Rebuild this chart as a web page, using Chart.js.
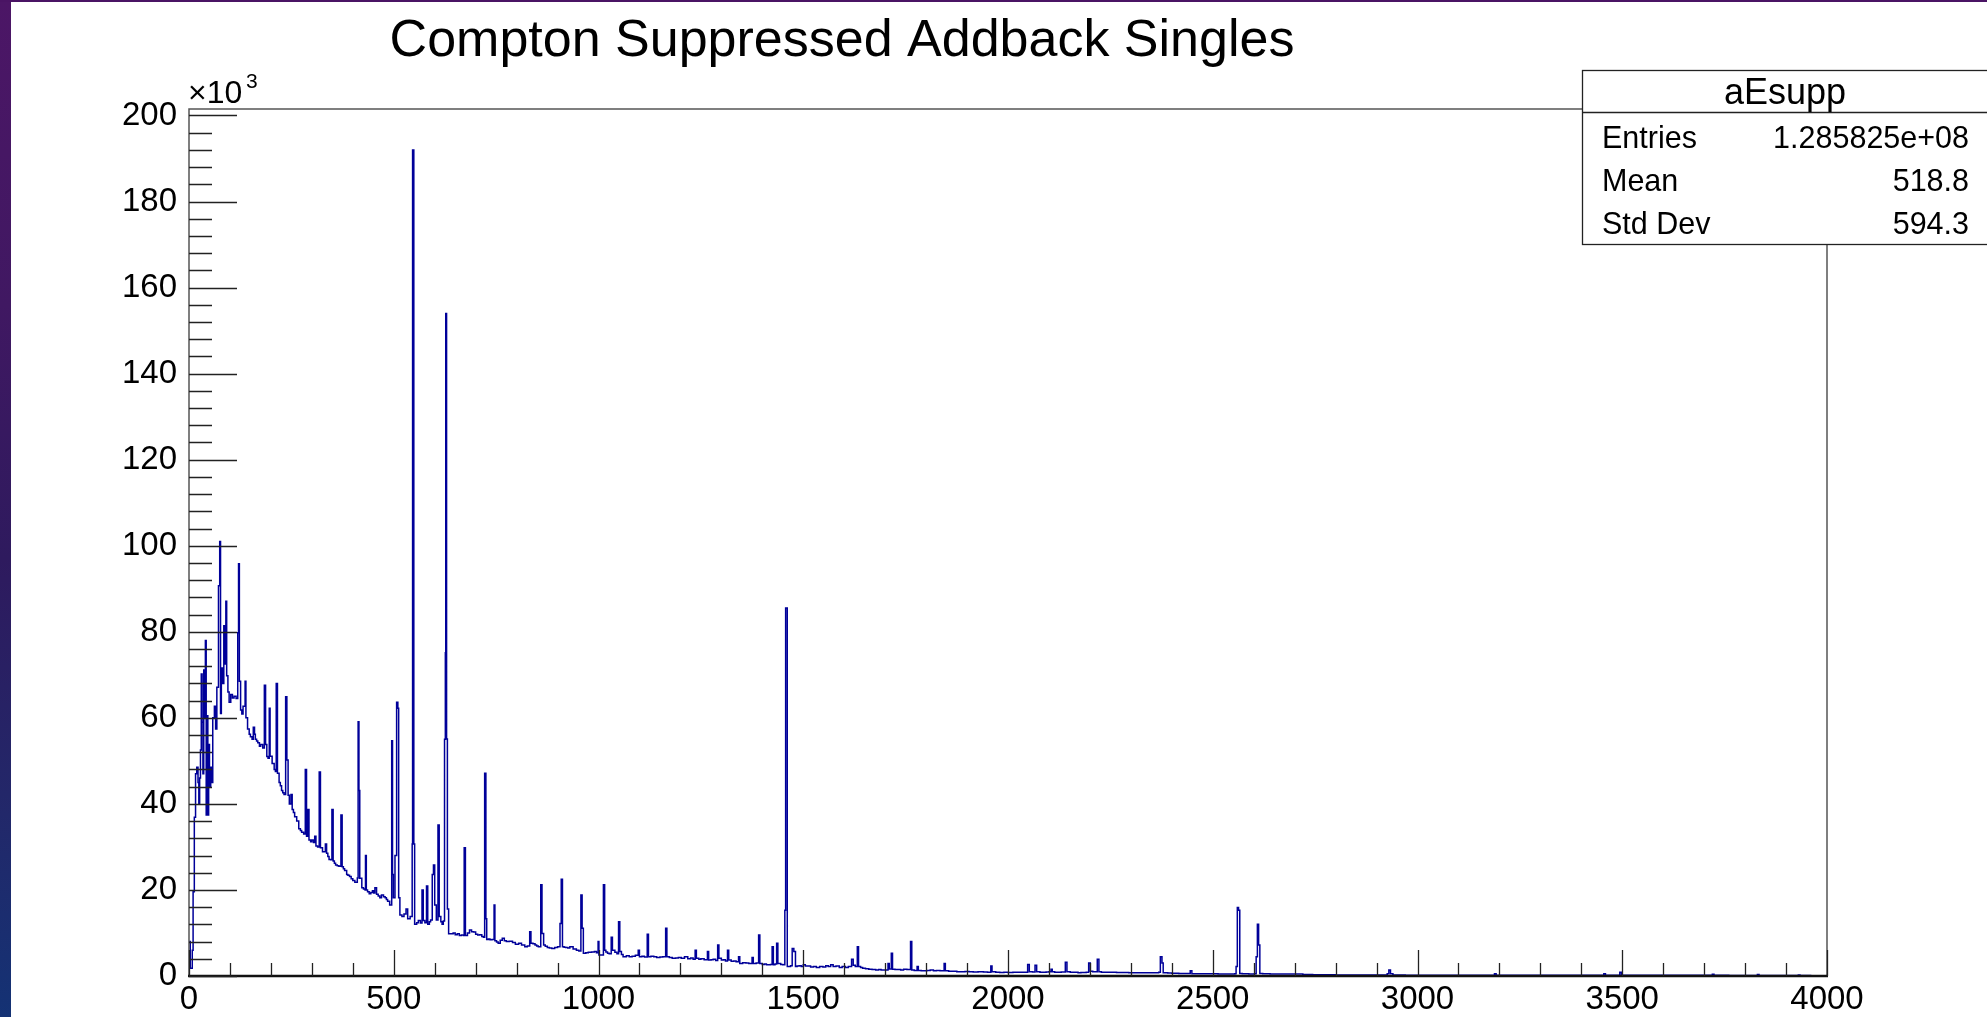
<!DOCTYPE html>
<html>
<head>
<meta charset="utf-8">
<title>Compton Suppressed Addback Singles</title>
<script src="https://cdn.jsdelivr.net/npm/chart.js@4.4.1/dist/chart.umd.min.js"></script>
<style>
  html, body { margin: 0; padding: 0; background: #ffffff; overflow: hidden; }
  #wrap { position: relative; width: 1987px; height: 1017px; }
  canvas { display: block; }
</style>
</head>
<body>
<div id="wrap"><canvas id="spec" width="1987" height="1017"></canvas></div>
<script>
// Gamma-ray energy spectrum, histogram "aEsupp".
// Each pair: [lower edge of a step in keV, counts from there to the next edge, in units of 10^3]
const lowEnergy = [
  [0,8.0],[3,1.8],[8,6.0],[10,19.6],[13,36.9],[16,47.0],[19,48.5],[22,45.0],[24,40.0],[26,46.0],
  [28,52.5],[30,70.2],[32,59.0],[34,47.0],[36,71.1],[39,60.0],[40,78.0],[42,37.4],[44,60.5],[46,37.4],
  [48,53.8],[50,44.0],[53,48.5],[56,45.0],[58,60.0],[62,62.7],[65,57.4],[68,67.1],[72,90.7],[75,101.0],
  [77,61.0],[79,71.6],[82,68.0],[85,81.4],[87,72.5],[90,87.1],[92,69.8],[95,66.0],[98,63.6],[102,65.4],
  [106,64.6],[110,65.0],[115,64.5],[119,79.8],[121,95.8],[123,68.5],[126,61.8],[129,60.9],[132,62.7],[137,68.5],
  [139,60.0],[143,57.4],[147,56.2],[150,55.6],[154,55.0],[157,57.8],[160,56.2],[162,55.0],[165,54.6],[168,54.2],
  [172,53.4],[175,53.8],[180,53.0],[184,67.6],[187,53.8],[190,51.0],[193,50.6],[196,62.2],[198,51.1],[203,49.4],
  [208,48.0],[211,47.5],[213,68.0],[216,47.1],[220,45.0],[223,44.2],[226,43.1],[229,42.6],[232,42.2],[236,64.9],
  [239,50.2],[242,42.0],[245,40.0],[249,42.2],[252,38.7],[255,38.0],[258,37.0],[263,36.0],[268,34.2],[272,33.8],
  [275,33.4],[280,33.0],[284,48.0],[287,32.5],[290,38.7],[293,31.6],[297,31.2],[300,31.6]
];
const midEnergy = [
  [304,31.0],[307,32.5],[310,30.2],[314,30.0],[318,47.4],[321,29.8],[326,28.9],[333,30.7],[336,28.5],[339,27.8],
  [342,27.1],[346,27.0],[349,38.7],[352,26.7],[355,26.2],[358,25.8],[362,25.6],[366,25.5],[371,37.4],[374,25.4],
  [377,24.9],[380,24.5],[385,23.6],[388,23.4],[392,23.1],[396,22.6],[400,22.2],[405,21.8],[411,22.8],[413,59.1],
  [415,43.1],[417,22.7],[422,20.5],[426,20.2],[430,20.0],[431,28.0],[433,20.0],[436,19.6],[440,19.1],[444,19.4],
  [448,19.8],[451,19.3],[454,20.5],[458,19.0],[462,18.6],[466,18.2],[470,18.8],[475,18.4],[479,18.2],[482,17.8],
  [485,17.4],[490,16.5],[495,54.7],[497,23.6],[499,18.2],[503,28.0],[507,63.6],[510,62.2],[512,18.2],[515,14.2],
  [520,13.8],[525,14.4],[530,15.6],[534,13.3],[540,13.8],[545,30.7],[546,192.0],[549,30.7],[551,12.0],[556,12.4],
  [560,12.9],[565,12.3],[569,20.0],[572,12.9],[576,12.4],[580,20.9],[583,12.0],[587,12.6],[590,13.0],[594,23.6],
  [597,25.8],[600,16.5],[604,13.0],[608,35.1],[611,13.8],[615,12.6],[618,12.0],[621,12.8],[624,55.0],[626,75.1],
  [627,154.0],[629,55.1],[631,15.6],[634,9.8],[640,9.8],[645,10.0],[650,9.6],[655,9.8],[660,9.4],[665,9.5],
  [670,9.4],[672,29.8],[675,9.4],[680,10.0],[685,10.7],[690,10.3],[695,10.2],[700,9.7],[705,9.5],[710,9.6],
  [715,9.2],[719,9.0],[722,47.1],[725,13.3],[727,8.5],[731,8.6],[735,8.4],[740,8.5],[745,16.5],[747,8.2],
  [751,7.9],[755,7.6],[760,8.3],[765,8.8],[770,8.2],[775,8.0],[782,8.1],[790,7.8],[797,7.4],[805,7.6],
  [812,7.2],[820,6.8],[826,7.0],[832,10.3],[835,7.6],[840,7.5],[845,7.2],[849,7.0],[853,6.8],[859,21.2],
  [862,9.9],[866,7.2],[870,6.9],[875,6.6],[880,6.5],[886,6.4],[893,6.6],[900,6.8],[906,12.2],[909,22.5],
  [912,6.8],[916,6.7],[920,6.6],[925,6.5],[930,6.8],[938,6.3],[946,6.0],[952,5.8],[957,18.8],[960,11.1],
  [963,5.3],[969,5.4],[975,5.5],[983,5.6],[990,5.7],[995,5.4],[999,8.0],[1001,4.9]
];
const highEnergy = [
  [1012,21.2],[1015,6.0],[1018,5.6],[1022,5.3],[1026,5.2],[1031,9.0],[1034,6.0],[1040,5.5],[1045,5.2],[1049,12.6],
  [1052,5.7],[1056,5.0],[1060,4.5],[1068,4.7],[1075,4.5],[1082,4.6],[1090,4.8],[1097,6.0],[1100,4.5],[1106,4.6],
  [1112,4.4],[1119,9.7],[1122,4.5],[1128,4.6],[1135,4.5],[1142,4.3],[1150,4.4],[1157,4.5],[1164,11.1],[1167,4.5],
  [1173,4.3],[1180,4.1],[1188,4.2],[1195,4.3],[1202,4.1],[1210,4.5],[1218,4.0],[1225,4.2],[1231,3.9],[1236,6.0],
  [1239,4.1],[1245,3.9],[1250,4.0],[1258,3.8],[1266,5.7],[1269,3.7],[1275,3.8],[1280,3.9],[1286,3.6],[1291,7.2],
  [1294,4.1],[1300,3.7],[1305,3.8],[1310,3.5],[1315,6.0],[1318,3.7],[1324,3.4],[1330,3.5],[1336,3.3],[1342,4.5],
  [1345,2.9],[1352,3.1],[1360,3.0],[1367,2.9],[1375,4.3],[1378,2.9],[1385,3.0],[1391,9.5],[1394,2.9],[1400,2.7],
  [1405,2.8],[1410,2.6],[1415,2.6],[1420,2.7],[1424,6.8],[1427,2.6],[1431,2.8],[1435,7.6],[1438,2.9],[1445,2.7],
  [1450,2.6],[1455,15.3],[1457,85.5],[1461,2.2],[1465,2.2],[1469,2.4],[1473,6.4],[1477,5.7],[1481,2.2],[1485,2.3],
  [1490,2.4],[1495,2.2],[1500,2.6],[1505,2.3],[1510,2.3],[1518,2.1],[1525,2.2],[1532,2.0],[1540,2.2],[1548,2.1],
  [1555,2.4],[1561,2.2],[1567,2.6],[1573,2.2],[1580,2.3],[1588,2.0],[1595,2.2],[1603,2.0],[1610,2.2],[1618,3.9],
  [1622,2.5],[1627,2.2],[1632,6.8],[1635,2.2],[1640,2.0],[1645,1.8],[1652,1.7],[1660,1.55],[1668,1.5],[1677,1.4],
  [1684,1.5],[1690,1.4],[1698,1.4],[1707,2.9],[1710,1.6],[1715,5.3],[1718,1.55],[1724,1.5],[1730,1.5],[1738,1.4],
  [1745,1.55],[1753,1.5],[1762,8.0],[1765,1.4],[1771,1.3],[1778,2.2],[1781,1.3],[1788,1.2],[1795,1.2],[1802,1.3],
  [1810,1.4],[1818,1.2],[1825,1.3],[1834,1.2],[1844,2.9],[1847,1.2],[1855,1.1],[1865,1.1],[1875,1.0],[1884,1.0],
  [1895,1.05],[1905,1.0],[1915,0.95],[1927,1.0],[1940,0.95],[1950,0.9],[1958,2.3],[1961,1.0],[1970,0.85],[1980,0.8],
  [1990,0.85],[2000,0.8],[2012,0.85],[2025,0.9],[2037,0.85],[2048,2.7],[2052,1.0],[2060,0.95],[2066,2.5],[2070,1.0],
  [2078,0.9],[2085,0.9],[2093,0.95],[2100,1.0],[2105,1.55],[2108,1.0],[2114,0.9],[2120,0.9],[2130,0.95],[2140,3.2],
  [2144,1.0],[2152,0.9],[2160,0.9],[2171,0.77],[2178,0.8],[2185,0.8],[2191,0.85],[2197,3.0],[2201,1.1],[2207,1.0],
  [2212,1.0],[2218,3.9],[2222,1.0],[2228,0.9],[2235,0.9],[2245,0.85],[2253,0.85],[2265,0.8],[2280,0.8],[2295,0.78],
  [2308,0.77],[2320,0.76],[2335,0.75],[2348,0.76],[2362,0.77],[2368,0.9],[2372,4.5],[2376,3.0],[2379,0.77],[2390,0.7],
  [2400,0.65],[2408,0.62],[2417,0.6],[2430,0.58],[2445,1.2],[2449,0.55],[2460,0.54],[2471,0.54],[2485,0.52],[2500,0.5],
  [2513,0.48],[2526,0.46],[2540,0.48],[2554,0.5],[2557,2.2],[2560,15.9],[2563,15.3],[2566,0.6],[2572,0.5],[2580,0.5],
  [2588,0.48],[2595,0.46],[2602,0.5],[2606,4.5],[2609,12.0],[2612,7.2],[2615,0.6],[2622,0.5],[2630,0.5],[2640,0.48],
  [2650,0.48],[2670,0.46],[2689,0.46],[2700,0.45],[2720,0.35],[2744,0.3],[2770,0.28],[2800,0.25],[2850,0.24],[2900,0.23],
  [2926,0.5],[2930,1.4],[2934,0.5],[2940,0.22],[2970,0.2],[3000,0.2],[3070,0.2],[3130,0.19],[3188,0.5],[3192,0.2],
  [3250,0.18],[3300,0.18],[3380,0.17],[3455,0.5],[3459,0.18],[3494,0.85],[3498,0.18],[3550,0.16],[3600,0.15],[3650,0.15],
  [3700,0.15],[3720,0.4],[3724,0.15],[3760,0.14],[3800,0.12],[3830,0.35],[3834,0.12],[3870,0.12],[3900,0.1],[3930,0.25],
  [3934,0.1],[3960,0.0],[4000,0.0]
];

// Axis ranges and labelled ticks
const xRange = [0, 4000];
const yRange = [0, 201.5];
const xTickLabels = [0, 500, 1000, 1500, 2000, 2500, 3000, 3500, 4000];
const yTickLabels = [0, 20, 40, 60, 80, 100, 120, 140, 160, 180, 200];
const xMinorStep = 100;
const yMinorStep = 4;

// Statistics box and title text
const statsTitle = 'aEsupp';
const statsLabels = ['Entries', 'Mean', 'Std Dev'];
const statsValues = ['1.285825e+08', '518.8', '594.3'];
const chartTitle = 'Compton Suppressed Addback Singles';

const FONT = '"Liberation Sans", Arial, Helvetica, sans-serif';

const points = lowEnergy.concat(midEnergy, highEnergy).map(p => ({ x: p[0], y: p[1] }));

const pageDecor = {
  id: 'pageDecor',
  beforeDraw(chart) {
    const ctx = chart.ctx;
    ctx.save();
    ctx.fillStyle = '#ffffff';
    ctx.fillRect(0, 0, chart.width, chart.height);
    const g = ctx.createLinearGradient(0, 0, 0, chart.height);
    g.addColorStop(0, '#4c1666');
    g.addColorStop(0.3, '#401862');
    g.addColorStop(0.55, '#2e1a5e');
    g.addColorStop(0.8, '#22286a');
    g.addColorStop(1, '#143274');
    ctx.fillStyle = g;
    ctx.fillRect(0, 0, 11, chart.height);
    ctx.fillStyle = '#4a1464';
    ctx.fillRect(0, 0, chart.width, 2);
    ctx.restore();
  }
};

const frameAndTicks = {
  id: 'frameAndTicks',
  afterDatasetsDraw(chart) {
    const ctx = chart.ctx;
    const a = chart.chartArea;
    const xs = chart.scales.x, ys = chart.scales.y;
    ctx.save();
    // frame
    ctx.strokeStyle = '#555555';
    ctx.lineWidth = 1.5;
    ctx.beginPath();
    ctx.moveTo(a.left, a.bottom);
    ctx.lineTo(a.left, a.top);
    ctx.lineTo(a.right, a.top);
    ctx.lineTo(a.right, a.bottom);
    ctx.stroke();
    ctx.strokeStyle = '#111111';
    ctx.lineWidth = 2.5;
    ctx.beginPath();
    ctx.moveTo(a.left - 1, a.bottom);
    ctx.lineTo(a.right + 1, a.bottom);
    ctx.stroke();
    // tick marks: long at labelled values, short at minor steps
    ctx.strokeStyle = '#222222';
    ctx.lineWidth = 1.3;
    ctx.beginPath();
    for (let v = yRange[0]; v <= yRange[1] + 1e-9; v += yMinorStep) {
      const py = Math.round(ys.getPixelForValue(v)) + 0.5;
      const len = yTickLabels.includes(v) ? 48 : 23;
      ctx.moveTo(a.left, py);
      ctx.lineTo(a.left + len, py);
    }
    for (let v = xRange[0]; v <= xRange[1] + 1e-9; v += xMinorStep) {
      const px = Math.round(xs.getPixelForValue(v)) + 0.5;
      const len = xTickLabels.includes(v) ? 26 : 13;
      ctx.moveTo(px, a.bottom);
      ctx.lineTo(px, a.bottom - len);
    }
    ctx.stroke();
    ctx.restore();
  },
  afterDraw(chart) {
    const ctx = chart.ctx;
    const a = chart.chartArea;
    ctx.save();
    ctx.fillStyle = '#000000';
    ctx.textBaseline = 'alphabetic';
    // title
    ctx.font = '52px ' + FONT;
    ctx.textAlign = 'center';
    ctx.fillText(chartTitle, 842, 56);
    // axis multiplier
    ctx.textAlign = 'left';
    ctx.font = '32px ' + FONT;
    ctx.fillText('\u00d710', a.left - 1, 103);
    ctx.font = '21px ' + FONT;
    ctx.fillText('3', a.left + 57, 88);
    // statistics box
    const bx = 1582, by = 70, bw = 1987 - 1582 + 2, bh = 174;
    ctx.fillStyle = '#ffffff';
    ctx.fillRect(bx, by, bw, bh);
    ctx.strokeStyle = '#222222';
    ctx.lineWidth = 1.3;
    ctx.strokeRect(bx + 0.5, by + 0.5, bw, bh);
    ctx.beginPath();
    ctx.moveTo(bx, 112.5);
    ctx.lineTo(bx + bw, 112.5);
    ctx.stroke();
    ctx.fillStyle = '#000000';
    ctx.font = '36px ' + FONT;
    ctx.textAlign = 'center';
    ctx.fillText(statsTitle, 1785, 104);
    const rowBase = [148, 191, 234];
    ctx.font = '30.5px ' + FONT;
    for (let i = 0; i < statsLabels.length; i++) {
      ctx.textAlign = 'left';
      ctx.fillText(statsLabels[i], 1602, rowBase[i]);
      ctx.textAlign = 'right';
      ctx.fillText(statsValues[i], 1969, rowBase[i]);
    }
    ctx.restore();
  }
};

new Chart(document.getElementById('spec'), {
  type: 'line',
  data: {
    datasets: [{
      data: points,
      stepped: 'before',
      borderColor: '#000099',
      borderWidth: 1.5,
      pointRadius: 0,
      fill: false,
      tension: 0
    }]
  },
  options: {
    responsive: false,
    animation: false,
    devicePixelRatio: 1,
    events: [],
    layout: { padding: { left: 0, right: 160, top: 109, bottom: 0 } },
    plugins: { legend: { display: false }, tooltip: { enabled: false }, title: { display: false } },
    scales: {
      x: {
        type: 'linear',
        min: xRange[0], max: xRange[1],
        grid: { display: false, drawTicks: false },
        border: { display: false },
        afterBuildTicks(s) { s.ticks = xTickLabels.map(v => ({ value: v })); },
        ticks: {
          autoSkip: false, maxRotation: 0, minRotation: 0,
          color: '#000000', padding: 4,
          font: { family: FONT, size: 33 },
          callback: v => String(v)
        },
        afterFit(s) { s.height = 41; }
      },
      y: {
        type: 'linear',
        min: yRange[0], max: yRange[1],
        grid: { display: false, drawTicks: false },
        border: { display: false },
        afterBuildTicks(s) { s.ticks = yTickLabels.map(v => ({ value: v })); },
        ticks: {
          autoSkip: false,
          color: '#000000', padding: 12,
          font: { family: FONT, size: 33 },
          callback: v => String(v)
        },
        afterFit(s) { s.width = 189; }
      }
    }
  },
  plugins: [pageDecor, frameAndTicks]
});
</script>
</body>
</html>
